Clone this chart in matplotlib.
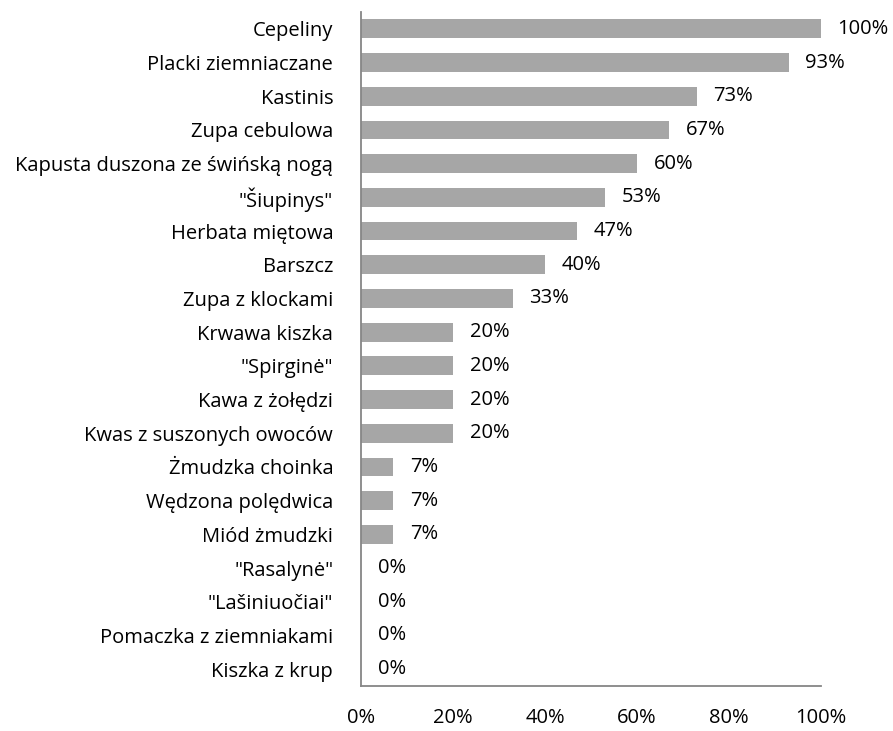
import matplotlib
matplotlib.use("Agg")
import matplotlib.pyplot as plt
from matplotlib.ticker import FuncFormatter

categories = [
    "Cepeliny", "Placki ziemniaczane", "Kastinis", "Zupa cebulowa",
    "Kapusta duszona ze świńską nogą", "\"Šiupinys\"", "Herbata miętowa",
    "Barszcz", "Zupa z klockami", "Krwawa kiszka", "\"Spirginė\"",
    "Kawa z żołędzi", "Kwas z suszonych owoców", "Żmudzka choinka",
    "Wędzona polędwica", "Miód żmudzki", "\"Rasalynė\"", "\"Lašiniuočiai\"",
    "Pomaczka z ziemniakami", "Kiszka z krup",
]
values = [100, 93, 73, 67, 60, 53, 47, 40, 33, 20, 20, 20, 20, 7, 7, 7, 0, 0, 0, 0]
xticks = [0, 20, 40, 60, 80, 100]

FS = 14.5
plt.rcParams['font.family'] = ['Open Sans', 'DejaVu Sans']
fig = plt.figure(figsize=(8.93, 7.31), dpi=100)
ax = fig.add_axes([361/893, 1-686/731, 460/893, (686-12)/731])

n = len(categories)
ypos = list(range(n))
ax.barh(ypos, values, height=0.56, color='#a6a6a6')
ax.set_ylim(n - 0.5, -0.5)
ax.set_xlim(0, 100)
ax.set_yticks(ypos)
ax.set_yticklabels(categories, fontsize=FS)
ax.set_xticks(xticks)
ax.xaxis.set_major_formatter(FuncFormatter(lambda v, p: f"{int(v)}%"))
ax.tick_params(axis='x', length=0, pad=16, labelsize=FS)
ax.tick_params(axis='y', length=0, pad=20)
for s in ['top', 'right']:
    ax.spines[s].set_visible(False)
for s in ['left', 'bottom']:
    ax.spines[s].set_color('#868686')
    ax.spines[s].set_linewidth(1.3)

for y, v in zip(ypos, values):
    ax.annotate(f"{v}%", xy=(v, y), xytext=(12, 0), textcoords='offset points',
                va='center', ha='left', fontsize=FS)

fig.savefig("out.png", dpi=100)
